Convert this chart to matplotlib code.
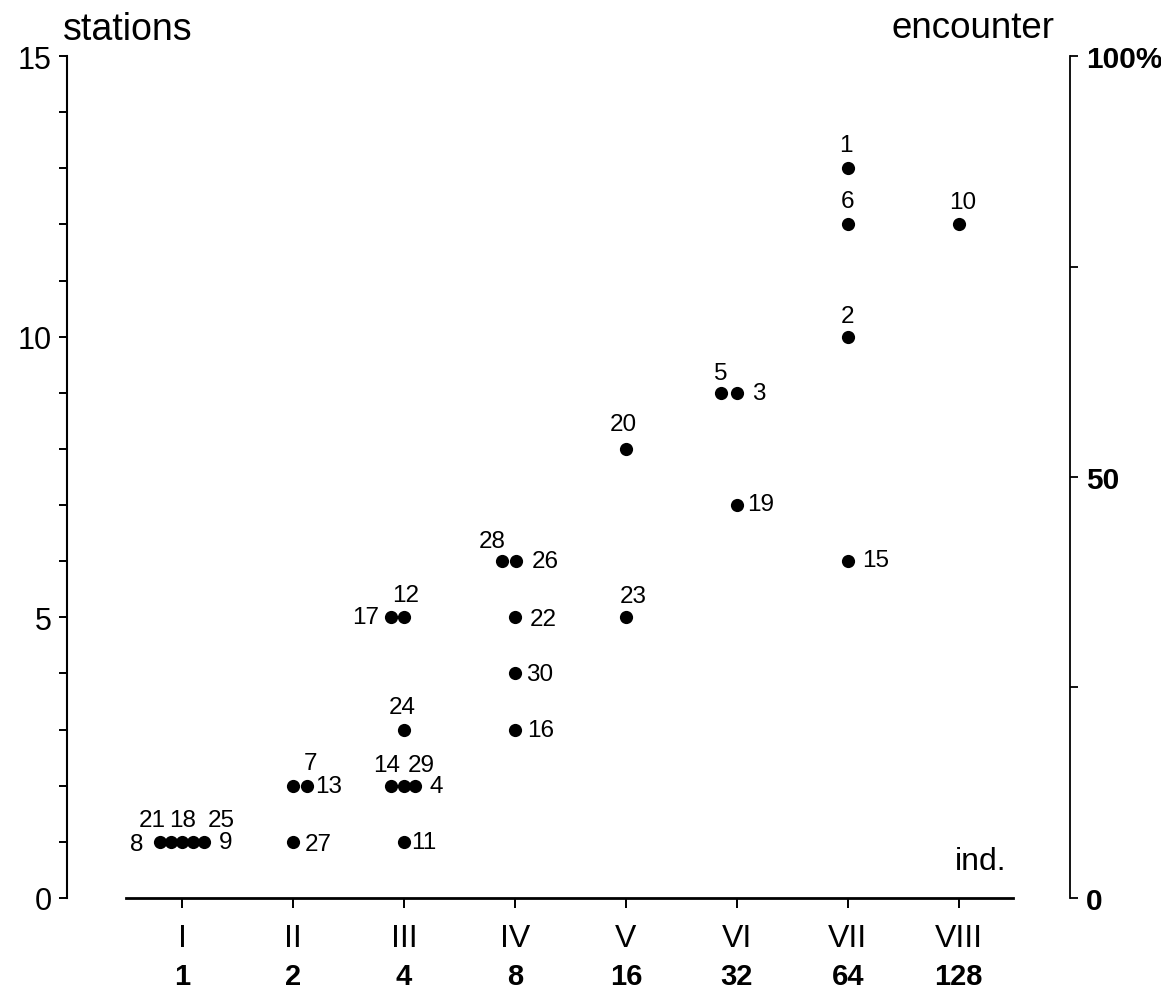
import matplotlib
matplotlib.use("Agg")
import matplotlib.pyplot as plt
from matplotlib.ticker import MultipleLocator, FixedLocator

plt.rcParams['font.family'] = ['Liberation Sans', 'DejaVu Sans']

# station numbers, position along the class axis, number of stations
labels = ['8', '21', '18', '25', '9',
          '7', '13', '27',
          '14', '29', '4', '11', '24', '17', '12',
          '28', '26', '22', '30', '16',
          '20', '23',
          '5', '3', '19',
          '1', '6', '2', '15',
          '10']
xpos = [0.8, 0.9, 1.0, 1.1, 1.2,
        2.0, 2.13, 2.0,
        2.88, 3.0, 3.1, 3.0, 3.0, 2.88, 3.0,
        3.88, 4.01, 4.0, 4.0, 4.0,
        5.0, 5.0,
        5.86, 6.0, 6.0,
        7.0, 7.0, 7.0, 7.0,
        8.0]
stations = [1, 1, 1, 1, 1,
            2, 2, 1,
            2, 2, 2, 1, 3, 5, 5,
            6, 6, 5, 4, 3,
            8, 5,
            9, 9, 7,
            13, 12, 10, 6,
            12]

classes = ['I', 'II', 'III', 'IV', 'V', 'VI', 'VII', 'VIII']
individuals = ['1', '2', '4', '8', '16', '32', '64', '128']

# where each number sits relative to its dot (pixels)
offsets = [(-23, -2), (-19, 22), (0, 22), (28, 22), (21, 0),
           (17, 23), (21, 0), (25, -2),
           (-4, 21), (17, 21), (21, 0), (20, 0), (-2, 23), (-25, 0), (2, 22),
           (-9, 20), (29, 0), (28, -2), (25, -1), (26, 0),
           (-3, 25), (7, 21),
           (0, 20), (22, 0), (24, 1),
           (-2, 23), (0, 23), (0, 21), (28, 1),
           (4, 22)]

fig = plt.figure(figsize=(11.61, 9.95), dpi=100)
ax = fig.add_axes([0.0575, 0.0965, 0.8637, 0.8462])
ax.set_xlim(-0.04, 9.0)
ax.set_ylim(0, 15)

ax.plot(xpos, stations, 'o', color='black', ms=9.5, mew=0, clip_on=False)
for lab, x, y, off in zip(labels, xpos, stations, offsets):
    ax.annotate(lab, (x, y), xytext=off, textcoords='offset pixels',
                ha='center', va='center', fontsize=17.5)

# left axis
ax.spines['top'].set_visible(False)
ax.spines['right'].set_visible(False)
ax.spines['left'].set_linewidth(1.5)
ax.spines['left'].set_bounds(0, 15)
ax.yaxis.set_major_locator(MultipleLocator(5))
ax.yaxis.set_minor_locator(MultipleLocator(1))
ax.tick_params(axis='y', which='both', direction='out', length=6, width=1.4,
               labelsize=22, pad=5)

# bottom axis, detached from the left one
ax.spines['bottom'].set_linewidth(2)
ax.spines['bottom'].set_bounds(0.49, 8.49)
ax.set_xticks(range(1, 9))
ax.set_xticklabels(classes, fontsize=23)
ax.tick_params(axis='x', direction='out', length=7, width=1.4, pad=11)
for x, n in zip(range(1, 9), individuals):
    ax.text(x, -1.39, n, ha='center', va='center', fontsize=21,
            fontweight='bold', clip_on=False)

ax.text(8.2, 0.66, 'ind.', ha='center', va='center', fontsize=23)
fig.text(128 / 1161, 1 - 30 / 995, 'stations', ha='center', va='center', fontsize=27)
fig.text(973 / 1161, 1 - 28 / 995, 'encounter', ha='center', va='center', fontsize=26.5)

# right axis in percent
ax2 = ax.twinx()
ax2.set_ylim(0, 100)
for s in ['top', 'bottom', 'left']:
    ax2.spines[s].set_visible(False)
ax2.spines['right'].set_linewidth(1.3)
ax2.yaxis.set_major_locator(FixedLocator([0, 25, 50, 75, 100]))
ax2.set_yticklabels(['0', '', '50', '', '100%'], fontsize=21.5, fontweight='bold')
ax2.tick_params(axis='y', direction='out', length=6, width=1.3, pad=6)

fig.savefig('out.png', dpi=100)
